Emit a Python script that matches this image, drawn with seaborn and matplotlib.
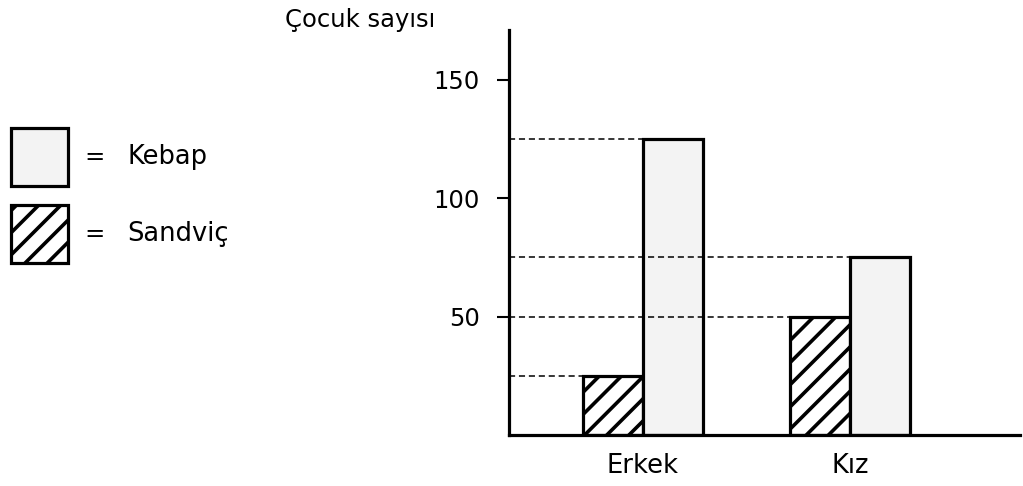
import matplotlib
matplotlib.use("Agg")
import matplotlib.pyplot as plt
import matplotlib as mpl
import seaborn as sns
import pandas as pd
from matplotlib.patches import Rectangle

# data
groups = ['Erkek', 'Kız']
foods = ['Sandviç', 'Kebap']
sandvic = [25, 50]
kebap = [125, 75]
yticks = [50, 100, 150]
ylabel = 'Çocuk sayısı'

# higher dpi spreads the hatch lines out; point sizes are scaled back by k
DPI = 133
k = 100 / DPI

sns.set_style('ticks')
mpl.rcParams.update({
    'font.family': ['DejaVu Sans'],
    'text.color': 'black',
    'hatch.linewidth': 2.6 * k,
    'hatch.color': 'black',
})

df = pd.DataFrame({
    'Cinsiyet': groups * 2,
    'Yiyecek': [foods[0]] * len(groups) + [foods[1]] * len(groups),
    'Sayı': sandvic + kebap,
})

W, H = 1023, 486
fig = plt.figure(figsize=(W / DPI, H / DPI), dpi=DPI)
ax = fig.add_axes([509 / W, 51 / H, (1020 - 509) / W, (435 - 30) / H])

sns.barplot(data=df, x='Cinsiyet', y='Sayı', hue='Yiyecek', hue_order=foods,
            order=groups, width=0.58, saturation=1,
            palette={'Sandviç': 'white', 'Kebap': '#f3f3f3'},
            edgecolor='black', linewidth=2.3 * k, legend=False, ax=ax)

for bar in ax.containers[0]:
    bar.set_hatch('//')

xl = (-0.647, 1.821)
ax.set_xlim(*xl)
ax.set_ylim(0, 171)

# dashed guide lines from the axis to each bar's top
for cont in ax.containers:
    for bar in cont:
        ax.hlines(bar.get_height(), xl[0], bar.get_x(), colors='black',
                  linestyles=(0, (4, 2.5)), linewidth=1.1 * k, zorder=4, clip_on=False)

ax.set_yticks(yticks)
ax.set_xlabel('')
ax.set_ylabel('')
sns.despine(ax=ax)
for sp in ['left', 'bottom']:
    ax.spines[sp].set_linewidth(2.3 * k)
    ax.spines[sp].set_color('black')
ax.tick_params(axis='y', length=9 * k, width=1.5 * k, pad=12 * k, labelsize=17.5 * k, colors='black')
ax.tick_params(axis='x', length=0, pad=13 * k, labelsize=18.5 * k, colors='black')

fig.text(435 / W, 1 - 20 / H, ylabel, ha='right', va='center', fontsize=17.5 * k)

# legend drawn as boxes with "=" labels
legend_items = [('Kebap', '#f3f3f3', None, 157), ('Sandviç', 'white', '//', 234)]
for name, fc, hatch, yc in legend_items:
    fig.add_artist(Rectangle((11 / W, 1 - (yc + 29) / H), 57 / W, 58 / H,
                             transform=fig.transFigure, facecolor=fc,
                             edgecolor='black', linewidth=2.3 * k, hatch=hatch))
    fig.text(95 / W, 1 - yc / H, '=', ha='center', va='center', fontsize=17.5 * k)
    fig.text(127 / W, 1 - yc / H, name, ha='left', va='center', fontsize=18.5 * k)

fig.savefig('out.png', dpi=DPI)
